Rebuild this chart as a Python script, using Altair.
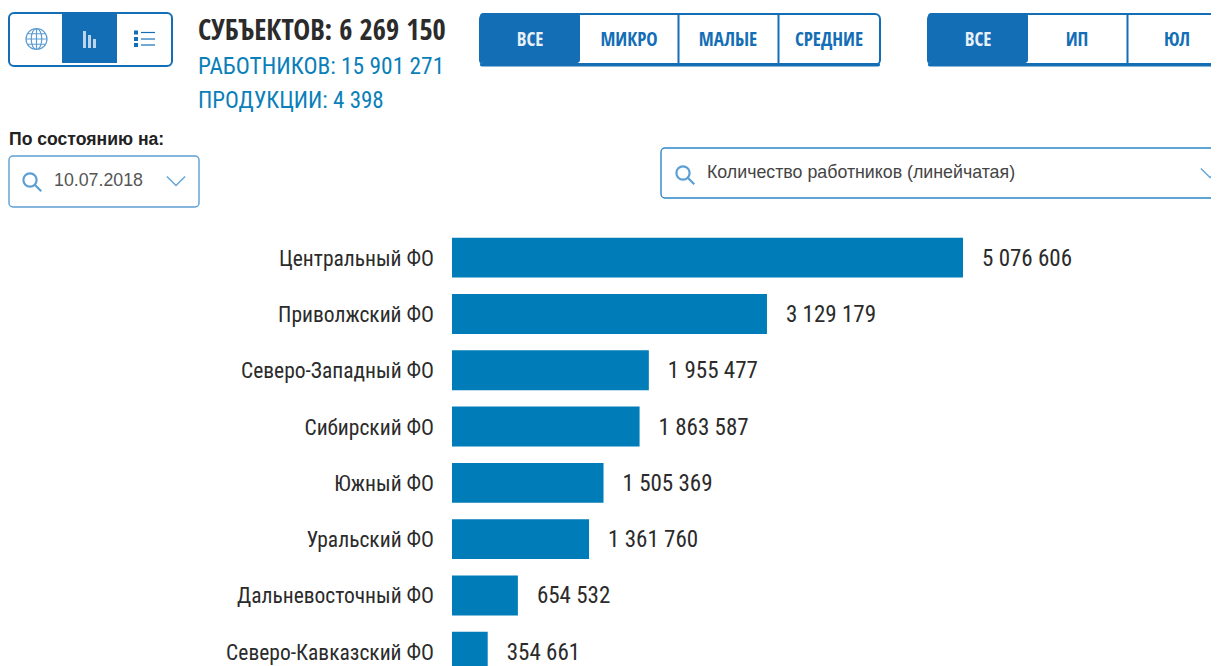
import altair as alt
import pandas as pd

names = ["Центральный ФО", "Приволжский ФО", "Северо-Западный ФО", "Сибирский ФО",
         "Южный ФО", "Уральский ФО", "Дальневосточный ФО", "Северо-Кавказский ФО"]
values = [5076606, 3129179, 1955477, 1863587, 1505369, 1361760, 654532, 354661]
value_labels = ["5 076 606", "3 129 179", "1 955 477", "1 863 587",
                "1 505 369", "1 361 760", "654 532", "354 661"]
heading = "СУБЪЕКТОВ: 6 269 150"
sub1 = "РАБОТНИКОВ: 15 901 271"
sub2 = "ПРОДУКЦИИ: 4 398"
date_caption = "По состоянию на:"
date_value = "10.07.2018"
dropdown_text = "Количество работников (линейчатая)"
group1 = ["ВСЕ", "МИКРО", "МАЛЫЕ", "СРЕДНИЕ"]
group2 = ["ВСЕ", "ИП", "ЮЛ"]

NARROW = "Roboto Condensed"
BOLD = "Open Sans Condensed"
ARIAL = "Liberation Sans"
BLUE = "#136eb6"
BAR = "#007cb9"
TEAL = "#0a7fb9"
INK = "#2b2b2b"
W, H = 1203, 658
M = 8


def box(x0, y0, x1, y1, fill="white", stroke=BLUE, sw=2.0, r=5):
    kw = dict(fill=fill, cornerRadius=r)
    if stroke:
        kw.update(stroke=stroke, strokeWidth=sw)
    else:
        kw.update(strokeWidth=0)
    return alt.Chart(base).mark_rect(**kw).encode(
        x=alt.value(x0 - M), x2=alt.value(x1 - M),
        y=alt.value(y0 - M), y2=alt.value(y1 - M))


def label(txt, x, y, size, color, font=NARROW, weight="normal", align="left"):
    return alt.Chart(base).mark_text(text=txt, font=font, fontSize=size, color=color,
                                     fontWeight=weight, align=align, baseline="middle").encode(
        x=alt.value(x - M), y=alt.value(y - M))


def glyph(path, x, y, size, color, sw=1.5):
    return alt.Chart(base).mark_point(shape=path, size=size, filled=False, stroke=color,
                                      strokeWidth=sw, opacity=1).encode(
        x=alt.value(x - M), y=alt.value(y - M))


base = pd.DataFrame({"a": [0]})
CHEV = "M-1,-0.5L0,0.5L1,-0.5"
LENS = "M0.5,0A0.5,0.5 0 1 1 -0.5,0A0.5,0.5 0 1 1 0.5,0M0.36,0.36L0.85,0.85"
GLOBE = ("M1,0A1,1 0 1 1 -1,0A1,1 0 1 1 1,0M0,-1L0,1M-1,0L1,0"
         "M0,-1A0.5,1 0 0 0 0,1M0,-1A0.5,1 0 0 1 0,1"
         "M-0.85,-0.5L0.85,-0.5M-0.85,0.5L0.85,0.5")

layers = []

# view switch
layers += [
    box(9, 13, 172, 66),
    box(62, 14, 117, 63, fill=BLUE, stroke=None, r=0),
    glyph(GLOBE, 36.5, 39, 441, "#5c9cd2", 1.2),
    box(83, 31, 86, 48, fill="#bcd4ea", stroke=None, r=0),
    box(88, 35, 91, 48, fill="#bcd4ea", stroke=None, r=0),
    box(93, 39, 96, 48, fill="#bcd4ea", stroke=None, r=0),
]
for yy in (32.5, 39, 45):
    layers += [
        box(134, yy - 2, 138, yy + 2, fill=BLUE, stroke=None, r=0),
        box(141, yy - 0.6, 155, yy + 0.6, fill=BLUE, stroke=None, r=0),
    ]

# totals
layers += [
    label(heading, 198, 31, 28.5, INK, font=BOLD),
    label(sub1, 198, 67, 23.4, TEAL),
    label(sub2, 198, 101, 23, TEAL),
    label(date_caption, 9, 140, 17.6, "#222222", font=ARIAL, weight="bold"),
]

# date box
layers += [
    box(9, 156, 199, 207, stroke="#5c9fd4", sw=1.4, r=4),
    glyph(LENS, 30, 180, 700, "#5c9fd4", 2.2),
    label(date_value, 54, 181, 17.8, "#555555", font=ARIAL),
    glyph(CHEV, 176, 181, 330, "#6aa6d8", 1.5),
]

# dropdown
layers += [
    box(661, 148, 1240, 198, stroke="#2d86c8", sw=1.4, r=4),
    glyph(LENS, 683, 173, 700, "#5c9fd4", 2.2),
    label(dropdown_text, 707, 173, 17.8, "#444444", font=ARIAL),
    glyph(CHEV, 1210, 173, 330, "#6aa6d8", 1.5),
]

# button groups
layers += [
    box(480, 14, 880, 65),
    box(480, 63, 880, 66.5, fill=BLUE, stroke=None, r=2),
    box(480, 13, 580, 63, fill=BLUE, stroke=None, r=3),
    box(677.5, 14, 679.5, 64, fill=BLUE, stroke=None, r=0),
    box(777.5, 14, 779.5, 64, fill=BLUE, stroke=None, r=0),
    box(928, 14, 1240, 65),
    box(928, 63, 1240, 66.5, fill=BLUE, stroke=None, r=2),
    box(928, 13, 1028, 63, fill=BLUE, stroke=None, r=3),
    box(1126.5, 14, 1128.5, 64, fill=BLUE, stroke=None, r=0),
]
for txt, cx, col in zip(group1, (530, 629, 728, 829), ("#e8f0f8", BLUE, BLUE, BLUE)):
    layers.append(label(txt, cx, 40, 19, col, font=BOLD, align="center"))
for txt, cx, col in zip(group2, (978, 1077, 1177), ("#e8f0f8", BLUE, BLUE)):
    layers.append(label(txt, cx, 40, 19, col, font=BOLD, align="center"))

# bars
df = pd.DataFrame({"name": names, "value": values, "label": value_labels})
x_scale = alt.Scale(domain=[0, 5076606], range=[452 - M, 963 - M])
y_scale = alt.Scale(domain=names, range=[221.5, 671.9], paddingInner=0.292, paddingOuter=0.146)
bars = alt.Chart(df).mark_bar(color=BAR).encode(
    x=alt.X("value:Q", scale=x_scale, axis=None),
    x2=alt.datum(0),
    y=alt.Y("name:N", scale=y_scale, axis=None, sort=names),
)
val_text = alt.Chart(df).mark_text(align="left", baseline="middle", dx=19, dy=1, font=NARROW,
                                   fontSize=23, color=INK).encode(
    x=alt.X("value:Q", scale=x_scale, axis=None),
    y=alt.Y("name:N", scale=y_scale, axis=None, sort=names),
    text="label:N",
)
name_text = alt.Chart(df).mark_text(align="right", baseline="middle", dy=2, font=NARROW,
                                    fontSize=21.5, color=INK).encode(
    x=alt.value(434 - M),
    y=alt.Y("name:N", scale=y_scale, axis=None, sort=names),
    text="name:N",
)
layers += [bars, val_text, name_text]

chart = alt.layer(*layers).properties(
    width=W, height=H, padding=0, autosize=alt.AutoSizeParams(type="none"),
    background="white",
).configure_view(stroke=None)

chart.save("out.html", embed_options={"renderer": "svg", "actions": False})
